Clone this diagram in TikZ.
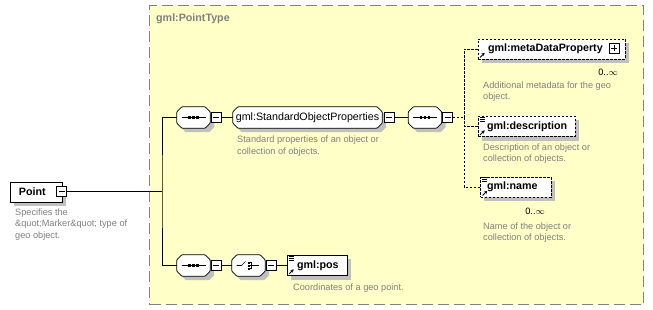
\documentclass[tikz,border=0pt]{standalone}
\usepackage{fontspec}
\setmainfont{Liberation Sans}
\usetikzlibrary{arrows.meta}
\definecolor{ctfill}{HTML}{FFFFC8}
\definecolor{ctline}{HTML}{808080}
\definecolor{shgray}{HTML}{C0C0C0}
\definecolor{descgray}{HTML}{808080}
\pgfdeclarelayer{back}
\pgfdeclarelayer{shadow}
\pgfdeclarelayer{shape}
\pgfsetlayers{back,shadow,shape,main}
\newcommand\octpath[2]{([shift={(#2+5,#2)}]#1.north west) -- ([shift={(#2-5,#2)}]#1.north east) -- ([shift={(#2,#2+5)}]#1.north east) -- ([shift={(#2,#2-5)}]#1.south east) -- ([shift={(#2-5,#2)}]#1.south east) -- ([shift={(#2+5,#2)}]#1.south west) -- ([shift={(#2,#2-5)}]#1.south west) -- ([shift={(#2,#2+5)}]#1.north west) -- cycle}
\newcommand\octa[1]{%
  \begin{pgfonlayer}{shadow}\fill[shgray] \octpath{#1}{4};\end{pgfonlayer}
  \begin{pgfonlayer}{shape}\filldraw[fill=white, line width=0.8pt, rounded corners=0.8pt] \octpath{#1}{0};\end{pgfonlayer}}
\newcommand\boxshadow[1]{%
  \begin{pgfonlayer}{shadow}\fill[shgray] ([shift={(4,4)}]#1.north west) rectangle ([shift={(4,4)}]#1.south east);\end{pgfonlayer}}
\begin{document}
\begin{tikzpicture}[x=1pt,y=-1pt,
  lblb/.style={font=\fontsize{10.7}{12}\selectfont\bfseries},
  lblr/.style={font=\fontsize{10.7}{12}\selectfont},
  desc/.style={font=\fontsize{9.2}{11.5}\selectfont, text=descgray, align=left, anchor=north west, inner sep=0pt},
  mult/.style={font=\fontsize{9.2}{11}\selectfont, anchor=east, inner sep=0pt},
  elem/.style={draw, line width=0.8pt, fill=white, rectangle, minimum height=20pt, inner ysep=0pt, align=left, lblb},
  opt/.style={elem, dash pattern=on 2.5pt off 1.5pt},
  comp/.style={rectangle, minimum width=33pt, minimum height=21pt, inner sep=0pt},
  btn/.style={draw, line width=0.8pt, fill=white, minimum size=10pt, inner sep=0pt, rectangle},
  minusbtn/.style={btn, path picture={\draw[line width=0.8pt] ([xshift=2pt]path picture bounding box.west) -- ([xshift=-2pt]path picture bounding box.east);}},
  plusbtn/.style={btn, path picture={\draw[line width=0.8pt] ([xshift=2pt]path picture bounding box.west) -- ([xshift=-2pt]path picture bounding box.east) ([yshift=-2pt]path picture bounding box.north) -- ([yshift=2pt]path picture bounding box.south);}},
  conn/.style={line width=0.8pt},
  dconn/.style={line width=0.8pt, dash pattern=on 2.5pt off 1.5pt},
  refarrow/.style={line width=1pt, -{Stealth[length=3pt,width=3.5pt]}},
  icon/.style={line width=0.7pt}
]
\useasboundingbox (0,0) rectangle (653,310);
\begin{pgfonlayer}{back}
\fill[white] (0,0) rectangle (653,310);
% container
\node[draw=ctline, fill=ctfill, line width=1.4pt, dash pattern=on 11pt off 5pt, rectangle, anchor=north west, minimum width=494pt, minimum height=299pt, inner sep=0pt] (ct) at (149,5) {};
\end{pgfonlayer}
\node[font=\fontsize{10.7}{12}\selectfont\bfseries, text=ctline, anchor=west, inner sep=0pt] (cttitle) at (156,19) {gml:PointType};

% root element
\node[elem, inner xsep=9pt, text width=34pt] (pt) at (36,192) {Point};
\node[minusbtn] (pb) at (61.5,191.5) {};
\node[desc] (ptd) at (15,208.5) {Specifies the\\\&quot;Marker\&quot; type of\\geo object.};

% top branch
\node[comp] (s1) at (193.5,117.5) {};
\node[minusbtn] (b1) at (216,117.5) {};
\node[comp, lblr, minimum width=149pt] (sop) at (307.5,117.5) {gml:StandardObjectProperties};
\node[minusbtn] (b2) at (389,117.5) {};
\node[desc] (sopd) at (237,136) {Standard properties of an object or\\collection of objects.};
\node[comp] (s2) at (425,117.5) {};
\node[minusbtn] (b3) at (447.5,117.5) {};
\coordinate (jr) at (464,117.5);

\node[opt, inner xsep=10pt, text width=127pt] (mdp) at (551.5,49) {gml:metaDataProperty};
\node[plusbtn] (mdpb) at (614,48.5) {};
\node[mult] (mdpm) at (618,72.5) {0..$\infty$};
\node[desc] (mdpd) at (483,81.5) {Additional metadata for the geo\\object.};

\node[opt, inner xsep=9pt, text width=79pt] (dsc) at (526.5,126.5) {gml:description};
\node[desc] (dscd) at (483,143.5) {Description of an object or\\collection of objects.};

\node[opt, inner xsep=6.5pt, text width=57.5pt] (nm) at (515.75,187) {gml:name};
\node[mult] (nmm) at (545,211.5) {0..$\infty$};
\node[desc] (nmd) at (483,222.5) {Name of the object or\\collection of objects.};

% bottom branch
\node[comp] (s3) at (193.5,265.5) {};
\node[minusbtn] (b4) at (216,265.5) {};
\node[comp] (ch) at (248.5,265.5) {};
\node[minusbtn] (b5) at (271,265.5) {};
\node[elem, inner xsep=10pt, text width=40pt] (pos) at (317,265.5) {gml:pos};
\node[desc] (posd) at (293,283.5) {Coordinates of a geo point.};

% shapes and shadows
\foreach \n in {s1,sop,s2,s3,ch} {\octa{\n}}
\foreach \n in {pt,mdp,dsc,nm,pos} {\boxshadow{\n}}

% connectors
\coordinate (jx) at (162,191.5);
\begin{pgfonlayer}{shadow}
\draw[conn] (pb.east) -- (jx);
\draw[conn] (s1.west) -| (jx) |- (s3.west);
\draw[conn] (b1.east) -- (sop.west);
\draw[conn] (b2.east) -- (s2.west);
\draw[dconn] (b3.east) -- (jr);
\draw[dconn] (mdp.west) -| (jr);
\draw[dconn] (dsc.west) -| (jr);
\draw[dconn] (nm.west) -| (jr);
\draw[conn] (b4.east) -- (ch.west);
\draw[conn] (b5.east) -- (pos.west);
\end{pgfonlayer}

% sequence icons
\foreach \n in {s1,s2,s3}{
  \draw[icon] ([xshift=-12pt]\n.center) -- ([xshift=12pt]\n.center);
  \foreach \dx in {-4,0,4}
    \fill ([shift={(\dx-1.3,-1.3)}]\n.center) rectangle ++(2.6,2.6);
}
% choice icon
\draw[icon] ([xshift=-12pt]ch.center) -- ([xshift=-7pt]ch.center) -- ([shift={(-3,-4)}]ch.center);
\foreach \dy in {-3,0,3}
  \fill ([shift={(-0.8,\dy-1)}]ch.center) rectangle ++(2,2);
\draw[icon] ([shift={(1.7,-3)}]ch.center) -- ([shift={(3,-3)}]ch.center) -- ([shift={(3,3)}]ch.center) -- ([shift={(1.7,3)}]ch.center)
            ([shift={(1.7,0)}]ch.center) -- ([shift={(10,0)}]ch.center);

% reference arrows
\foreach \n in {mdp,dsc,nm,pos}
  \draw[refarrow] ([shift={(2.5,-2)}]\n.south west) -- ++(4.5,-4.5);
% simple content icons
\foreach \n in {dsc,nm,pos}
  \foreach \dy in {1.2,3.2,5.2}
    \draw[line width=0.7pt] ([shift={(2,\dy)}]\n.north west) -- ++(5,0);
\end{tikzpicture}
\end{document}
